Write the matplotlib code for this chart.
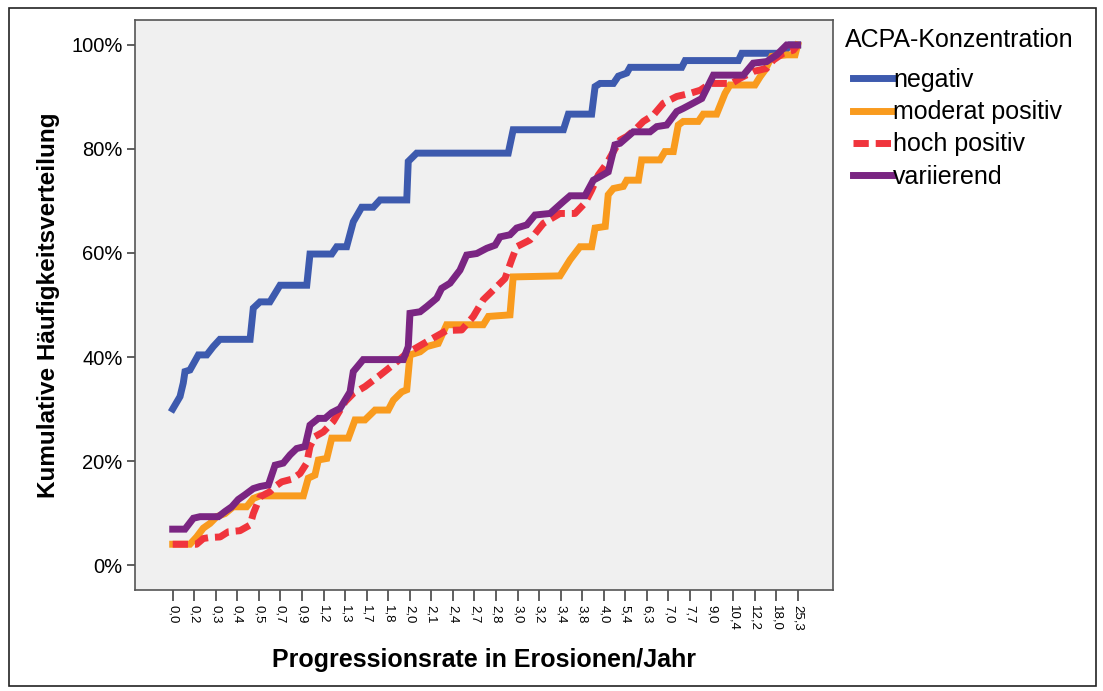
import matplotlib
matplotlib.use("Agg")
import matplotlib.pyplot as plt
from matplotlib.patches import Rectangle

plt.rcParams['font.family'] = ['Liberation Sans', 'DejaVu Sans']

# Category tick labels (x axis)
tick_labels = ["0,0", "0,2", "0,3", "0,4", "0,5", "0,7", "0,9", "1,2", "1,3", "1,7",
               "1,8", "2,0", "2,1", "2,4", "2,7", "2,8", "3,0", "3,2", "3,4", "3,8",
               "4,0", "5,4", "6,3", "7,0", "7,7", "9,0", "10,4", "12,2", "18,0", "25,3"]

series_names = ["negativ", "moderat positiv", "hoch positiv", "variierend"]

# positions along the category axis (in tick-label units) and cumulative percentages
neg_x = [0, 0.34, 0.49, 0.57, 0.80, 1.19, 1.58, 1.88, 2.19, 3.59, 3.74, 4.05, 4.51, 4.98,
         6.22, 6.37, 7.38, 7.61, 8.07, 8.38, 8.77, 9.31, 9.62, 10.86, 10.93, 11.32, 15.57,
         15.80, 18.13, 18.36, 19.44, 19.60, 19.83, 20.45, 20.68, 21.07, 21.22, 23.62, 23.78,
         26.25, 26.41, 28.33, 28.64, 29.0]
neg_y = [30, 32.4, 35, 37.2, 37.5, 40.4, 40.4, 42, 43.4, 43.4, 49.4, 50.6, 50.6, 53.8,
         53.8, 59.8, 59.8, 61.2, 61.2, 66, 68.8, 68.8, 70.2, 70.2, 77.6, 79.2, 79.2,
         83.7, 83.7, 86.7, 86.7, 92, 92.6, 92.6, 94, 94.6, 95.7, 95.7, 97,
         97, 98.4, 98.4, 100, 100]

mod_x = [0, 0.80, 1.11, 1.42, 1.73, 2.04, 2.43, 2.81, 3.43, 3.74, 4.05, 6.06, 6.29, 6.60,
         6.76, 7.15, 7.38, 8.15, 8.46, 8.92, 9.39, 10.00, 10.24, 10.63, 10.86, 11.01, 11.48,
         11.79, 12.32, 12.71, 14.41, 14.65, 15.65, 15.80, 17.97, 18.44, 18.90, 19.44, 19.60,
         20.07, 20.21, 20.45, 20.91, 21.07, 21.61, 21.76, 22.61, 22.84, 23.23, 23.46, 23.69,
         24.39, 24.62, 25.24, 25.63, 25.86, 27.02, 27.26, 27.49, 27.80, 28.49, 28.88, 29.0]
mod_y = [4.0, 4.0, 5.4, 7.1, 8.0, 9.3, 9.9, 11.2, 11.2, 12.8, 13.3, 13.3, 16.7, 17.3,
         20.2, 20.5, 24.4, 24.4, 27.9, 27.9, 29.8, 29.8, 31.7, 33.3, 33.7, 40.4, 41.0,
         42.0, 42.6, 46.2, 46.2, 47.8, 48.1, 55.4, 55.6, 58.7, 61.2, 61.2, 64.8,
         65.1, 71.2, 72.4, 72.8, 74, 74, 77.9, 77.9, 79.5, 79.5, 84.6, 85.3,
         85.3, 86.7, 86.7, 90.7, 92.3, 92.3, 93.9, 95.2, 97.8, 98.1, 98.1, 100]

hoch_x = [0, 1.11, 1.42, 1.73, 2.20, 2.58, 3.12, 3.59, 3.74, 4.05, 4.51, 4.75, 5.06, 5.52,
          5.91, 6.22, 6.37, 6.60, 6.99, 7.45, 8.00, 8.38, 8.92, 9.62, 10.32, 10.86, 11.40,
          11.94, 12.71, 13.41, 13.95, 14.41, 15.03, 15.42, 15.73, 15.96, 16.58, 17.20, 17.97,
          18.67, 19.13, 19.44, 19.75, 20.14, 20.45, 20.76, 21.07, 21.53, 21.84, 22.30, 22.77,
          23.39, 24.01, 24.48, 24.94, 25.94, 26.33, 26.94, 27.56, 27.87, 28.33, 28.80, 29.0]
hoch_y = [4.0, 4.0, 5.1, 5.3, 5.4, 6.4, 6.6, 7.7, 9.9, 13.1, 14.1, 15.1, 16.0, 16.5,
          17.6, 19.6, 22.8, 24.7, 25.6, 27.6, 31.4, 33.0, 34.3, 36.5, 38.8, 40.7, 42.0,
          43.3, 45.1, 45.2, 47.8, 51.0, 53.5, 55.1, 58.7, 61.2, 62.5, 65.7, 67.6,
          67.6, 69.6, 72.1, 75.0, 77.2, 79.5, 81.7, 82.4, 84.0, 85.3, 86.5, 88.8,
          90.1, 90.7, 91.3, 92.6, 92.6, 93.6, 94.9, 95.5, 97.1, 98.4, 99.0, 100]

var_x = [0, 0.57, 0.96, 1.27, 2.12, 2.43, 2.74, 3.04, 3.35, 3.74, 4.05, 4.44, 4.75, 5.13,
         5.45, 5.75, 6.14, 6.37, 6.76, 7.07, 7.38, 7.76, 8.23, 8.38, 8.84, 10.70, 10.93,
         11.01, 11.48, 11.79, 12.25, 12.48, 12.87, 13.33, 13.64, 14.11, 14.57, 14.96, 15.19,
         15.65, 15.96, 16.43, 16.81, 17.51, 18.13, 18.44, 19.13, 19.52, 19.83, 20.21, 20.52,
         20.76, 21.37, 22.15, 22.46, 22.92, 23.39, 23.69, 24.01, 24.55, 25.09, 26.48, 26.94,
         27.56, 28.03, 28.49, 29.0]
var_y = [6.9, 6.9, 9.0, 9.3, 9.3, 10.3, 11.2, 12.6, 13.5, 14.7, 15.1, 15.4, 19.2, 19.6,
         21.2, 22.4, 22.8, 26.9, 28.2, 28.2, 29.3, 30.1, 33.3, 37.2, 39.5, 39.5, 42.0,
         48.4, 48.7, 49.7, 51.3, 53.2, 54.2, 56.7, 59.6, 59.9, 60.9, 61.5, 63.1,
         63.5, 64.8, 65.4, 67.3, 67.6, 69.9, 71.0, 71.0, 74.0, 74.7, 75.6, 80.8,
         81.1, 83.3, 83.3, 84.3, 84.6, 87.2, 87.8, 88.5, 89.7, 94.2, 94.2, 96.5,
         96.8, 98.1, 100, 100]

y_ticks = [0, 20, 40, 60, 80, 100]

colors = ["#3D5AAE", "#F99B1E", "#F0343C", "#7A2582"]

W, H = 1103, 691
fig = plt.figure(figsize=(W / 100, H / 100), dpi=100)
fig.patch.set_facecolor("white")
ax = fig.add_axes([135 / W, 1 - 590 / H, (833 - 135) / W, (590 - 20) / H])
ax.set_facecolor("#F0F0F0")

lw = 5.0
ax.plot(neg_x, neg_y, color=colors[0], lw=lw, label=series_names[0], solid_joinstyle="miter")
ax.plot(mod_x, mod_y, color=colors[1], lw=lw, label=series_names[1], solid_joinstyle="miter")
ax.plot(hoch_x, hoch_y, color=colors[2], lw=lw, label=series_names[2],
        linestyle=(0, (2.2, 1.0)), dash_capstyle="butt")
ax.plot(var_x, var_y, color=colors[3], lw=lw, label=series_names[3], solid_joinstyle="miter")

ax.set_xlim(-1.75, 30.64)
ax.set_ylim(-4.8, 104.8)
ax.set_xticks(range(len(tick_labels)))
ax.set_xticklabels(tick_labels, rotation=270, fontsize=9.5, va="top", ha="center")
ax.set_yticks(y_ticks)
ax.set_yticklabels([f"{v}%" for v in y_ticks], fontsize=14.5)
ax.tick_params(axis="x", length=8, width=1.2, color="#444444", pad=3)
ax.tick_params(axis="y", length=6, width=1.2, color="#444444", pad=3)
for s in ax.spines.values():
    s.set_color("#555555")
    s.set_linewidth(1.2)

ax.set_xlabel("Progressionsrate in Erosionen/Jahr", fontsize=18, fontweight="bold", labelpad=12)
ax.set_ylabel("Kumulative Häufigkeitsverteilung", fontsize=17.5, fontweight="bold", labelpad=8)

fig.text(845 / W, 1 - 40 / H, "ACPA-Konzentration", fontsize=18, ha="left", va="center")
leg = fig.legend(loc="upper left", bbox_to_anchor=(853 / W, 1 - 68 / H), frameon=False,
                 fontsize=18, handlelength=1.55, handletextpad=0.05, labelspacing=0.33,
                 borderaxespad=0, borderpad=0)

fig.add_artist(Rectangle((9 / W, 1 - 686 / H), (1096 - 9) / W, (686 - 8) / H,
                         transform=fig.transFigure, fill=False, edgecolor="#222222", lw=1.2))

fig.savefig("out.png", dpi=100)
